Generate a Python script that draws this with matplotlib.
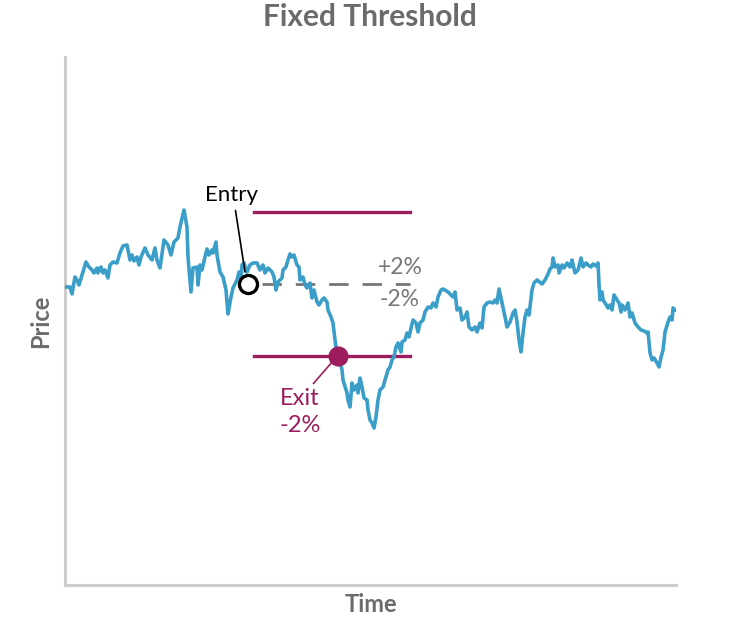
import matplotlib
matplotlib.use("Agg")
import matplotlib.pyplot as plt

plt.rcParams['font.family'] = ['Lato', 'DejaVu Sans']

# ---- data ----
time = [0,5,7,10,12,14,18,21,24,27,29,32,33,36,38,40,43,45,48,52,55,58,62,65,67,69,72,74,76,80,83,87,90,92,95,
        99,103,106,109,113,115,119,122,123,126,128,132,133,135,137,140,142,144,147,148,151,152,155,158,161,163,166,168,
        172,174,176,177,179,182,185,188,192,195,198,200,203,207,209,211,213,217,218,221,223,225,227,229,232,234,235,
        238,240,242,245,247,249,252,254,257,259,262,263,266,268,270,272,274,277,278,282,283,285,287,289,292,293,295,
        297,299,302,303,305,307,309,311,313,315,318,320,323,325,327,329,331,333,336,337,340,342,344,346,348,351,353,
        355,358,360,363,366,368,371,373,376,378,383,388,390,392,395,397,400,402,404,407,410,412,415,417,419,422,425,
        428,430,432,434,437,440,442,445,448,450,452,454,456,458,460,462,464,467,469,472,477,480,483,485,487,488,490,
        493,494,497,499,502,505,507,510,513,516,518,521,523,526,528,531,533,534,535,537,538,540,543,545,547,549,552,
        554,556,557,560,563,565,567,570,573,576,579,582,583,585,587,589,592,594,596,598,600,603,605,607,608,610]
price = [3597,3597,3590,3607,3604,3599,3612,3622,3617,3614,3611,3616,3611,3617,3611,3614,3606,3619,3622,3621,3631,
         3638,3639,3624,3629,3623,3627,3619,3627,3636,3629,3624,3636,3624,3616,3644,3639,3629,3642,3646,3657,3674,
         3657,3627,3592,3616,3617,3599,3619,3614,3627,3635,3629,3634,3631,3642,3629,3612,3607,3594,3570,3587,3596,
         3604,3612,3604,3619,3621,3612,3619,3621,3621,3614,3619,3611,3616,3612,3607,3594,3602,3606,3614,3617,3624,
         3630,3627,3629,3619,3617,3604,3607,3599,3596,3601,3586,3594,3582,3579,3584,3586,3582,3574,3567,3561,3544,
         3529,3527,3514,3504,3491,3484,3477,3501,3494,3499,3491,3506,3497,3486,3484,3474,3464,3461,3456,3467,3484,
         3494,3497,3504,3514,3517,3524,3527,3537,3541,3532,3542,3544,3551,3547,3556,3564,3561,3552,3561,3564,3572,
         3577,3576,3581,3577,3587,3594,3595,3592,3587,3592,3574,3576,3564,3567,3572,3557,3554,3557,3552,3561,3556,
         3577,3581,3582,3581,3584,3581,3595,3581,3567,3557,3562,3571,3574,3562,3544,3532,3551,3567,3574,3569,3594,
         3601,3604,3600,3604,3610,3615,3617,3626,3617,3619,3611,3619,3616,3621,3617,3624,3611,3614,3626,3617,3621,
         3619,3617,3620,3618,3621,3599,3584,3592,3584,3581,3576,3579,3574,3589,3584,3581,3572,3579,3574,3581,3567,
         3571,3561,3557,3554,3553,3551,3552,3531,3524,3526,3521,3517,3527,3534,3552,3562,3567,3564,3576,3574]

entry_time = 183
entry_price = 3600
exit_time = 273
threshold_pct = 2
upper = entry_price * (1 + threshold_pct / 100)
lower = entry_price * (1 - threshold_pct / 100)
band_start, band_end = 189, 345

BLUE = '#3a9ec9'
MAG = '#9c1c5e'
GRAY = '#777777'
LABEL = '#6b6b6b'

fig = plt.figure(figsize=(7.52, 6.26), dpi=100)
ax = fig.add_axes([0.0864, 0.0655, 0.8126, 0.8435])

ax.plot(time, price, color=BLUE, lw=2.6, solid_joinstyle='round', zorder=3)

ax.plot([band_start, band_end], [upper, upper], color=MAG, lw=2.4, zorder=2)
ax.plot([band_start, band_end], [lower, lower], color=MAG, lw=2.4, zorder=2)
ax.plot([entry_time + 14, band_end], [entry_price, entry_price], color=GRAY, lw=2.0,
        dashes=(7, 5), zorder=2)

ax.plot([entry_time], [entry_price], 'o', ms=13, mfc='white', mec='black', mew=2.4, zorder=5)
ax.plot([exit_time], [lower], 'o', ms=13.5, color=MAG, zorder=5)

ax.annotate('Entry', xy=(entry_time - 3, entry_price + 12), xytext=(entry_time - 16, entry_price + 89),
            ha='center', va='center', fontsize=16, color='black',
            arrowprops=dict(arrowstyle='-', color='black', lw=1.2, shrinkA=2, shrinkB=0,
                            relpos=(0.55, 0.0)))
ax.annotate('Exit\n-2%', xy=(exit_time - 5, lower - 5), xytext=(exit_time - 38, lower - 56),
            ha='center', va='center', fontsize=17, color=MAG, linespacing=1.3,
            arrowprops=dict(arrowstyle='-', color=MAG, lw=1.2, shrinkA=2, shrinkB=0,
                            relpos=(0.72, 1.0)))

ax.text(335, entry_price + 16, '+2%', ha='center', va='center', fontsize=16.5, color=GRAY)
ax.text(335, entry_price - 16, '-2%', ha='center', va='center', fontsize=16.5, color=GRAY)

ax.set_xlim(0, 611)
ax.set_ylim(3299, 3827)
ax.set_xticks([])
ax.set_yticks([])
for s in ['top', 'right']:
    ax.spines[s].set_visible(False)
for s in ['left', 'bottom']:
    ax.spines[s].set_color('#cccccc')
    ax.spines[s].set_linewidth(2.2)

ax.set_xlabel('Time', fontsize=17, fontweight='bold', color=LABEL, labelpad=6)
ax.set_ylabel('Price', fontsize=17, fontweight='bold', color=LABEL, labelpad=9)
fig.suptitle('Fixed Threshold', fontsize=21.5, fontweight='bold', color=LABEL, x=0.492, y=0.995)

fig.savefig('out.png', dpi=100, facecolor='white')
